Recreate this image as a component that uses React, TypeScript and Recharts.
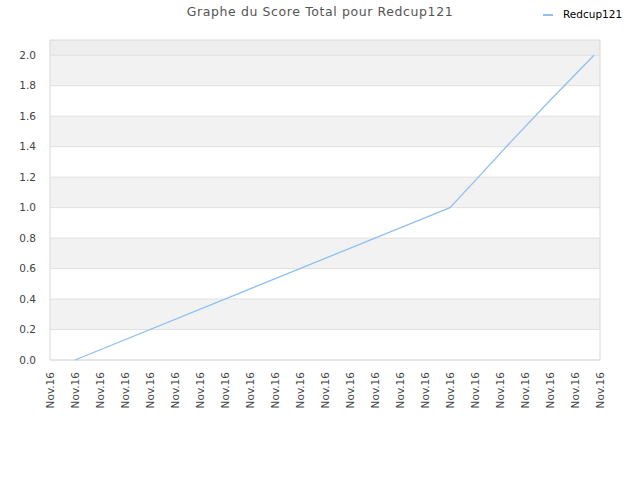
import React from "react";
import { LineChart, Line, XAxis, YAxis, ReferenceArea, ReferenceLine } from "recharts";

const seriesName = "Redcup121";
const titleText = "Graphe du Score Total pour Redcup121";
const xTicks = [0, 1, 2, 3, 4, 5, 6, 7, 8, 9, 10, 11, 12, 13, 14, 15, 16, 17, 18, 19, 20, 21, 22];
const xTickLabel = "Nov.16";
const yTicks = [0, 0.2, 0.4, 0.6, 0.8, 1.0, 1.2, 1.4, 1.6, 1.8, 2.0];
const xPos = [1, 16, 17.08, 18.48, 19.92, 21.76];
const scores = [0, 1.0, 1.19, 1.44, 1.69, 2.0];
const bandStarts = [0.2, 0.6, 1.0, 1.4, 1.8];
const bandEnds = [0.4, 0.8, 1.2, 1.6, 2.0];

const data = xPos.map((x, i) => ({ x, score: scores[i] }));

const FONT = "'DejaVu Sans', sans-serif";
const LINE_COLOR = "#8fc0f2";

const XTick = (props: any) => {
  const { x, y } = props;
  return (
    <text
      x={0}
      y={0}
      transform={`translate(${x + 4},${y}) rotate(-90)`}
      textAnchor="end"
      fontSize={10.5}
      fontFamily={FONT}
      fill="#444"
    >
      {xTickLabel}
    </text>
  );
};

export default function App() {
  return (
    <div style={{ position: "absolute", left: 0, top: 0, width: 640, height: 480, background: "#fff" }}>
      <div
        style={{
          position: "absolute",
          left: 0,
          width: 640,
          top: 4,
          textAlign: "center",
          fontFamily: FONT,
          fontSize: 12.5,
          letterSpacing: 0.6,
          color: "#555",
        }}
      >
        {titleText}
      </div>
      <div
        style={{
          position: "absolute",
          left: 540,
          top: 8,
          display: "flex",
          alignItems: "center",
          fontFamily: FONT,
          fontSize: 10.5,
          color: "#000",
        }}
      >
        <svg width={23} height={10}>
          <line x1={3} y1={6} x2={13} y2={6} stroke={LINE_COLOR} strokeWidth={2} />
        </svg>
        <span>{seriesName}</span>
      </div>
      <LineChart width={640} height={480} data={data} margin={{ top: 40, right: 40, bottom: 0, left: 0 }}>
        {bandStarts.map((b, i) => (
          <ReferenceArea key={"b" + i} y1={b} y2={bandEnds[i]} x1={0} x2={22} fill="#f2f2f2" fillOpacity={1} stroke="none" ifOverflow="visible" />
        ))}
        <ReferenceArea y1={2.0} y2={2.1} x1={0} x2={22} fill="#eeeeee" fillOpacity={1} stroke="none" ifOverflow="visible" />
        {yTicks.map((t) => (
          <ReferenceLine key={"g" + t} y={t} stroke="#e0e0e0" strokeWidth={1} ifOverflow="visible" />
        ))}
        <ReferenceArea y1={0} y2={2.1} x1={0} x2={22} fill="none" stroke="#d8d8d8" strokeWidth={1} ifOverflow="visible" />
        <XAxis
          dataKey="x"
          type="number"
          domain={[0, 22]}
          ticks={xTicks}
          interval={0}
          height={120}
          tickLine={false}
          axisLine={false}
          tick={<XTick />}
          tickMargin={6}
        />
        <YAxis
          type="number"
          domain={[0, 2.1]}
          ticks={yTicks}
          width={50}
          tickLine={false}
          axisLine={false}
          tickFormatter={(v: number) => v.toFixed(1)}
          tick={{ fontSize: 10.5, fontFamily: FONT, fill: "#444" }}
          tickMargin={8}
        />
        <Line
          type="linear"
          dataKey="score"
          name={seriesName}
          stroke={LINE_COLOR}
          strokeWidth={1.3}
          dot={false}
          isAnimationActive={false}
        />
      </LineChart>
    </div>
  );
}
